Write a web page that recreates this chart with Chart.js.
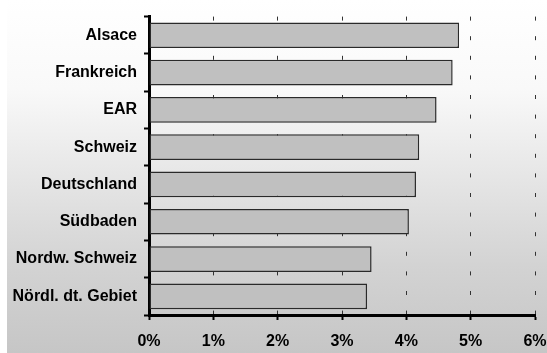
<!DOCTYPE html>
<html>
<head>
<meta charset="utf-8">
<script src="https://cdn.jsdelivr.net/npm/chart.js@4/dist/chart.umd.min.js"></script>
<style>
  body { margin: 0; background: #fff; }
  #wrap { position: relative; width: 547px; height: 353px; }
  #bg {
    position: absolute; left: 7px; top: 0; width: 540px; height: 353px;
    background: linear-gradient(to bottom, #ffffff 0%, #f9f9f9 25%, #e6e6e6 50%, #d3d3d3 75%, #c6c6c6 100%);
  }
  #barCanvas { position: absolute; left: 0; top: 0; }
</style>
</head>
<body>
<div id="wrap">
  <div id="bg"></div>
  <canvas id="barCanvas" width="547" height="353"></canvas>
</div>
<script>
const regions = ['Alsace', 'Frankreich', 'EAR', 'Schweiz', 'Deutschland', 'Südbaden', 'Nordw. Schweiz', 'Nördl. dt. Gebiet'];
const rates = [4.82, 4.72, 4.47, 4.20, 4.15, 4.04, 3.46, 3.39];
const percentTicks = [0, 1, 2, 3, 4, 5, 6];

Chart.defaults.font.family = "'Liberation Sans', Arial, sans-serif";
Chart.defaults.font.weight = 'bold';
Chart.defaults.color = '#000';

const barCanvas = document.getElementById("barCanvas");

const barChart = new Chart(barCanvas, {
    type: "bar",
    data: {
        labels: regions,
        datasets: [{
            data: rates,
            backgroundColor: '#c0c0c0',
            borderColor: '#2a2a2a',
            borderWidth: 1.5,
            borderSkipped: false,
            barPercentage: 0.69,
            categoryPercentage: 1
        }]
    },
    options: {
        indexAxis: 'y',
        responsive: false,
        animation: false,
        layout: { padding: { top: 15, right: 12, left: 0, bottom: 0 } },
        plugins: {
            legend: { display: false },
            tooltip: { enabled: false }
        },
        scales: {
            x: {
                min: 0,
                max: 6,
                afterBuildTicks: (axis) => { axis.ticks = percentTicks.map(v => ({ value: v })); },
                afterFit: (axis) => {
                    axis.height = 38;
                    axis.paddingLeft = 0;
                    axis.paddingRight = 0;
                },
                ticks: {
                    font: { size: 16, weight: 'bold' },
                    padding: 12,
                    callback: (v) => v + '%'
                },
                grid: {
                    color: '#333333',
                    lineWidth: 1,
                    drawTicks: true,
                    tickLength: 5,
                    tickColor: '#000',
                    tickWidth: 2
                },
                border: { color: '#000', width: 3, dash: [4, 15.6] }
            },
            y: {
                afterFit: (axis) => { axis.width = 149; },
                ticks: {
                    font: { size: 16, weight: 'bold' },
                    padding: 7
                },
                grid: {
                    offset: true,
                    drawOnChartArea: false,
                    drawTicks: true,
                    tickLength: 5,
                    tickColor: '#000',
                    tickWidth: 2
                },
                border: { color: '#000', width: 3 }
            }
        }
    }
});
</script>
</body>
</html>
